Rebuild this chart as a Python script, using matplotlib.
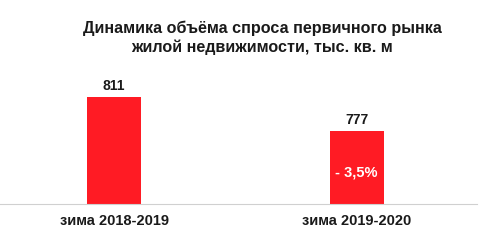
import matplotlib.pyplot as plt

plt.rcParams['font.family'] = ['Liberation Sans', 'DejaVu Sans']

# данные
periods = ['зима 2018-2019', 'зима 2019-2020']
values = [811, 777]
change_label = '- 3,5%'

fig = plt.figure(figsize=(4.9, 2.42), dpi=100)
ax = fig.add_axes([0.0, 0.157, 1.0, 0.442])

x = range(len(periods))
bars = ax.bar(x, values, width=0.222, color='#FF1B24')

ax.set_ylim(704, 811)
ax.set_xlim(-0.47, 1.55)

# подписи значений
for b, v in zip(bars, values):
    ax.text(b.get_x() + b.get_width() / 2, v + 4, str(v), ha='center', va='bottom',
            fontsize=10, fontweight='bold', color='#1a1a1a', clip_on=False)

# изменение внутри второго столбца
ax.text(1, 736, change_label, ha='center', va='center', fontsize=10.5,
        fontweight='bold', color='white')

ax.set_xticks(list(x))
ax.set_xticklabels(periods, fontsize=10.5, fontweight='bold', color='#1a1a1a')
ax.tick_params(axis='x', length=0, pad=7)
ax.set_yticks([])
for s in ['top', 'right', 'left']:
    ax.spines[s].set_visible(False)
ax.spines['bottom'].set_color('#d0d0d0')
ax.spines['bottom'].set_bounds(-0.47, 1.498)

fig.text(0.535, 0.845, 'Динамика объёма спроса первичного рынка\nжилой недвижимости, тыс. кв. м',
         ha='center', va='center', fontsize=11.6, fontweight='bold', color='#1a1a1a',
         linespacing=1.3)

fig.savefig('out.png', dpi=100)
